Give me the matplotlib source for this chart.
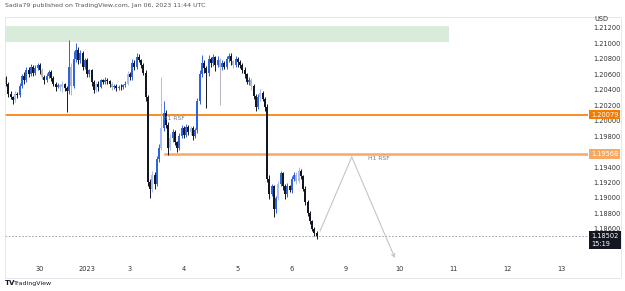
import matplotlib
matplotlib.use('Agg')
import matplotlib.pyplot as plt
from matplotlib.patches import Rectangle

# hourly EURUSD-like closes (index = hour bar)
closes = [
    1.2048, 1.2035, 1.2030, 1.2027, 1.2035, 1.2033, 1.2045, 1.2058, 1.2052, 1.2066,
    1.2060, 1.2070, 1.2062, 1.2068, 1.2072, 1.2065, 1.2057, 1.2052, 1.2058, 1.2063,
    1.2055, 1.2048, 1.2044, 1.2046, 1.2043, 1.2047, 1.2042, 1.2038, 1.2070, 1.2045,
    1.2080, 1.2092, 1.2078, 1.2088, 1.2070, 1.2078, 1.2060, 1.2065, 1.2050, 1.2040,
    1.2048, 1.2044, 1.2052, 1.2050, 1.2053, 1.2051, 1.2047, 1.2043, 1.2045, 1.2042,
    1.2044, 1.2043, 1.2046, 1.2048, 1.2060, 1.2056, 1.2075, 1.2070, 1.2082, 1.2078,
    1.2072, 1.2062, 1.2030, 1.1920, 1.1912, 1.1930, 1.1918, 1.1950, 1.1965, 1.1990,
    1.2010, 1.1995, 1.1965, 1.1978, 1.1985, 1.1972, 1.1965, 1.1980, 1.1990, 1.1982,
    1.1992, 1.1985, 1.1990, 1.1980, 1.1988, 1.2025, 1.2060, 1.2075, 1.2068, 1.2062,
    1.2080, 1.2074, 1.2082, 1.2072, 1.2078, 1.2070, 1.2075, 1.2070, 1.2080, 1.2084,
    1.2077, 1.2072, 1.2080, 1.2076, 1.2072, 1.2065, 1.2060, 1.2050, 1.2052, 1.2045,
    1.2032, 1.2018, 1.2030, 1.2036, 1.2028, 1.2018, 1.1925, 1.1905, 1.1915, 1.1885,
    1.1900, 1.1918, 1.1932, 1.1915, 1.1905, 1.1915, 1.1910, 1.1925, 1.1930, 1.1922,
    1.1935, 1.1928, 1.1912, 1.1895, 1.1880, 1.1870, 1.1860, 1.1855, 1.18502,
]
first_open = 1.2055

# wick lengths in pips above / below the body
upper_wick = [
    3, 2, 4, 2, 3, 2, 4, 3, 5, 3,
    4, 3, 2, 4, 3, 2, 3, 2, 4, 3,
    2, 3, 2, 3, 2, 4, 2, 3, 35, 4,
    10, 8, 3, 4, 2, 3, 3, 2, 2, 3,
    2, 3, 2, 2, 3, 2, 2, 3, 2, 2,
    2, 3, 2, 3, 4, 3, 5, 3, 6, 4,
    2, 3, 4, 3, 4, 5, 3, 4, 5, 67,
    15, 4, 3, 5, 4, 3, 2, 4, 5, 3,
    4, 2, 3, 3, 2, 4, 6, 10, 4, 3,
    5, 3, 4, 2, 6, 3, 4, 2, 4, 3,
    3, 2, 4, 3, 2, 3, 4, 2, 5, 3,
    2, 3, 4, 5, 3, 2, 3, 4, 3, 2,
    3, 4, 3, 2, 3, 4, 2, 3, 4, 3,
    5, 3, 2, 3, 2, 3, 2, 2, 2,
]
lower_wick = [
    3, 4, 2, 5, 3, 4, 2, 3, 4, 2,
    3, 2, 4, 3, 2, 4, 3, 5, 2, 3,
    4, 3, 5, 2, 4, 6, 3, 27, 3, 12,
    3, 4, 5, 3, 4, 3, 4, 3, 5, 4,
    3, 6, 2, 3, 2, 3, 4, 3, 2, 3,
    2, 3, 2, 3, 2, 4, 3, 4, 3, 2,
    4, 3, 5, 5, 12, 4, 6, 3, 4, 3,
    3, 4, 10, 3, 5, 4, 6, 3, 2, 4,
    3, 4, 3, 5, 3, 4, 3, 3, 6, 46,
    4, 5, 3, 8, 3, 50, 4, 3, 3, 4,
    5, 4, 3, 6, 4, 3, 5, 3, 4, 5,
    4, 6, 3, 4, 3, 5, 4, 6, 3, 10,
    4, 3, 3, 5, 6, 4, 3, 4, 3, 4,
    3, 4, 3, 4, 3, 4, 3, 4, 3,
]
faded = [4, 16, 24, 25, 29, 40, 47, 54, 65, 69, 73, 82, 95, 101, 109, 113, 121, 129, 130]

day_ticks = [15, 36, 55, 79, 103, 127, 151, 175, 199, 223, 247]
day_labels = ['30', '2023', '3', '4', '5', '6', '9', '10', '11', '12', '13']
price_ticks = [1.186, 1.188, 1.190, 1.192, 1.194, 1.196, 1.198, 1.200,
               1.202, 1.204, 1.206, 1.208, 1.210, 1.212]

level_1 = 1.20079
level_2 = 1.19568
last_price = 1.18502
last_time = '15:19'
zone = (1.21019, 1.21226)
zone_end = 196.8
level_2_start = 70.6
path_x = [139.5, 153.6, 172.8]
path_y = [1.1857, 1.1953, 1.1822]

fig = plt.figure(figsize=(6.25, 2.91), dpi=100)
ax = fig.add_axes([5 / 625, 1 - 260 / 291, 583 / 625, 243 / 291])
ax.set_xlim(-0.5, 258.6)
ax.set_ylim(1.18196, 1.21342)

ax.add_patch(Rectangle((-0.5, zone[0]), zone_end + 0.5, zone[1] - zone[0],
                       facecolor='#d9ecdc', edgecolor='none', zorder=0))

ax.axhline(level_1, color='#f57c00', lw=1.2, zorder=3)
ax.plot([level_2_start, 258.6], [level_2, level_2], color='#f9a862', lw=1.8, zorder=3)
ax.axhline(last_price, color='#9598a1', lw=0.6, ls=(0, (2, 2)), zorder=1)

opens = [first_open] + closes[:-1]
for i, (o, c) in enumerate(zip(opens, closes)):
    up = c >= o
    if i in faded:
        col = '#a9bcf5' if up else '#b2b5be'
    else:
        col = '#2f63dd' if up else '#131722'
    top, bot = max(o, c), min(o, c)
    ax.vlines(i, bot - lower_wick[i] * 1e-4, top + upper_wick[i] * 1e-4,
              color=col, lw=0.7, zorder=4)
    ax.bar(i, max(top - bot, 0.00006), bottom=bot, width=0.85, color=col,
           linewidth=0, zorder=4)

ax.text(69.7, 1.20022, 'H1 RSF', fontsize=4.3, color='#787b86', va='center', zorder=5)
ax.text(160.8, 1.19504, 'H1 RSF', fontsize=4.3, color='#787b86', va='center', zorder=5)

ax.plot(path_x[:2], path_y[:2], color='#c3c5cc', lw=0.8, zorder=2)
ax.annotate('', xy=(path_x[2], path_y[2]), xytext=(path_x[1], path_y[1]),
            arrowprops=dict(arrowstyle='->', color='#c3c5cc', lw=0.8,
                            shrinkA=0, shrinkB=0, mutation_scale=6), zorder=2)

for s in ax.spines.values():
    s.set_visible(False)
ax.set_xticks(day_ticks)
ax.set_xticklabels(day_labels)
ax.yaxis.tick_right()
ax.set_yticks(price_ticks)
ax.set_yticklabels([f'{p:.5f}' for p in price_ticks])
ax.tick_params(axis='x', length=0, pad=4.5, labelsize=4.8, colors='#333333')
ax.tick_params(axis='y', length=0, pad=3.6, labelsize=4.8, colors='#333333')

ytr = ax.get_yaxis_transform()
ax.text(1.0051, level_1, f'{level_1:.5f}', transform=ytr, fontsize=4.8, color='white',
        va='center', ha='left', zorder=10,
        bbox=dict(boxstyle='square,pad=0.25', facecolor='#f57c00', edgecolor='none'))
ax.text(1.0051, level_2, f'{level_2:.5f}', transform=ytr, fontsize=4.8, color='white',
        va='center', ha='left', zorder=10,
        bbox=dict(boxstyle='square,pad=0.25', facecolor='#f9a862', edgecolor='none'))
ax.text(1.0051, last_price + 0.0004, f'{last_price:.5f}\n{last_time}', transform=ytr,
        fontsize=4.8, color='white', va='top', ha='left', linespacing=1.3, zorder=10,
        bbox=dict(boxstyle='square,pad=0.35', facecolor='#131722', edgecolor='none'))

fig.text(594 / 625, 1 - 19 / 291, 'USD', fontsize=4.8, color='#333333', va='center')
fig.text(5 / 625, 1 - 6 / 291, 'Sadia79 published on TradingView.com, Jan 06, 2023 11:44 UTC',
         fontsize=4.5, color='#555555', va='center')
fig.text(5 / 625, 1 - 283 / 291, 'TV', fontsize=5, weight='bold', color='#131722', va='center')
fig.text(14 / 625, 1 - 283 / 291, 'TradingView', fontsize=4.5, color='#131722', va='center')

fig.add_artist(Rectangle((5 / 625, 1 - 278 / 291), 616 / 625, 261 / 291,
                         transform=fig.transFigure, fill=False, edgecolor='#e0e3eb', lw=0.6))

fig.savefig('out.png', dpi=100)
